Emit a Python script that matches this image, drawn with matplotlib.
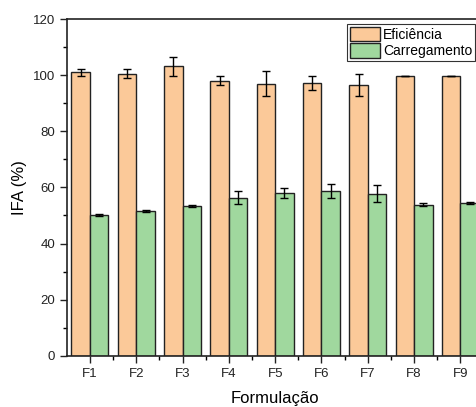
import numpy as np
import matplotlib
matplotlib.use('Agg')
import matplotlib.pyplot as plt

plt.rcParams['font.family'] = ['Liberation Sans', 'DejaVu Sans']

formulacoes = ['F1', 'F2', 'F3', 'F4', 'F5', 'F6', 'F7', 'F8', 'F9']
eficiencia = [101.1, 100.6, 103.2, 98.1, 97.0, 97.3, 96.6, 99.6, 99.6]
eficiencia_err = [1.2, 1.5, 3.4, 1.6, 4.5, 2.4, 3.9, 0.0, 0.0]
carregamento = [50.2, 51.6, 53.5, 56.4, 58.1, 58.7, 57.8, 53.9, 54.4]
carregamento_err = [0.3, 0.3, 0.4, 2.4, 1.8, 2.4, 3.1, 0.6, 0.3]

cor_efic = '#FBC999'
cor_carr = '#A0D89E'

fig = plt.figure(figsize=(4.77, 4.07), dpi=100)
ax = fig.add_axes([0.1401, 0.126, 0.8736, 0.827])

x = np.arange(1, len(formulacoes) + 1)
w = 0.4
err_kw = dict(ecolor='black', elinewidth=1, capsize=3, capthick=1)
ax.bar(x - w/2, eficiencia, w, yerr=eficiencia_err, color=cor_efic,
       edgecolor='#222222', linewidth=1, error_kw=err_kw, label='Eficiência')
ax.bar(x + w/2, carregamento, w, yerr=carregamento_err, color=cor_carr,
       edgecolor='#222222', linewidth=1, error_kw=err_kw, label='Carregamento')

ax.set_xlim(0.5, 9.5)
ax.set_ylim(0, 120)
ax.set_xticks(x)
ax.set_xticklabels(formulacoes)
ax.set_xticks(x[:-1] + 0.5, minor=True)
ax.set_yticks(np.arange(0, 121, 20))
ax.set_yticks(np.arange(10, 120, 20), minor=True)
ax.tick_params(which='major', direction='out', length=5, width=1, labelsize=9.5, colors='#222222')
ax.tick_params(which='minor', direction='out', length=3, width=1)
for s in ['left', 'bottom', 'top', 'right']:
    ax.spines[s].set_linewidth(1.2)
    ax.spines[s].set_color('#222222')

ax.set_xlabel('Formulação', fontsize=12, labelpad=8)
ax.set_ylabel('IFA (%)', fontsize=12, labelpad=4)

leg = ax.legend(loc='upper right', bbox_to_anchor=(475/477, 1 - 24/407),
                bbox_transform=fig.transFigure, fontsize=10, frameon=True,
                fancybox=False, borderaxespad=0, borderpad=0.2,
                handlelength=2.2, handleheight=1.25, handletextpad=0.2,
                labelspacing=0.1)
leg.get_frame().set_edgecolor('black')
leg.get_frame().set_linewidth(0.8)

fig.savefig('out.png', dpi=100)
